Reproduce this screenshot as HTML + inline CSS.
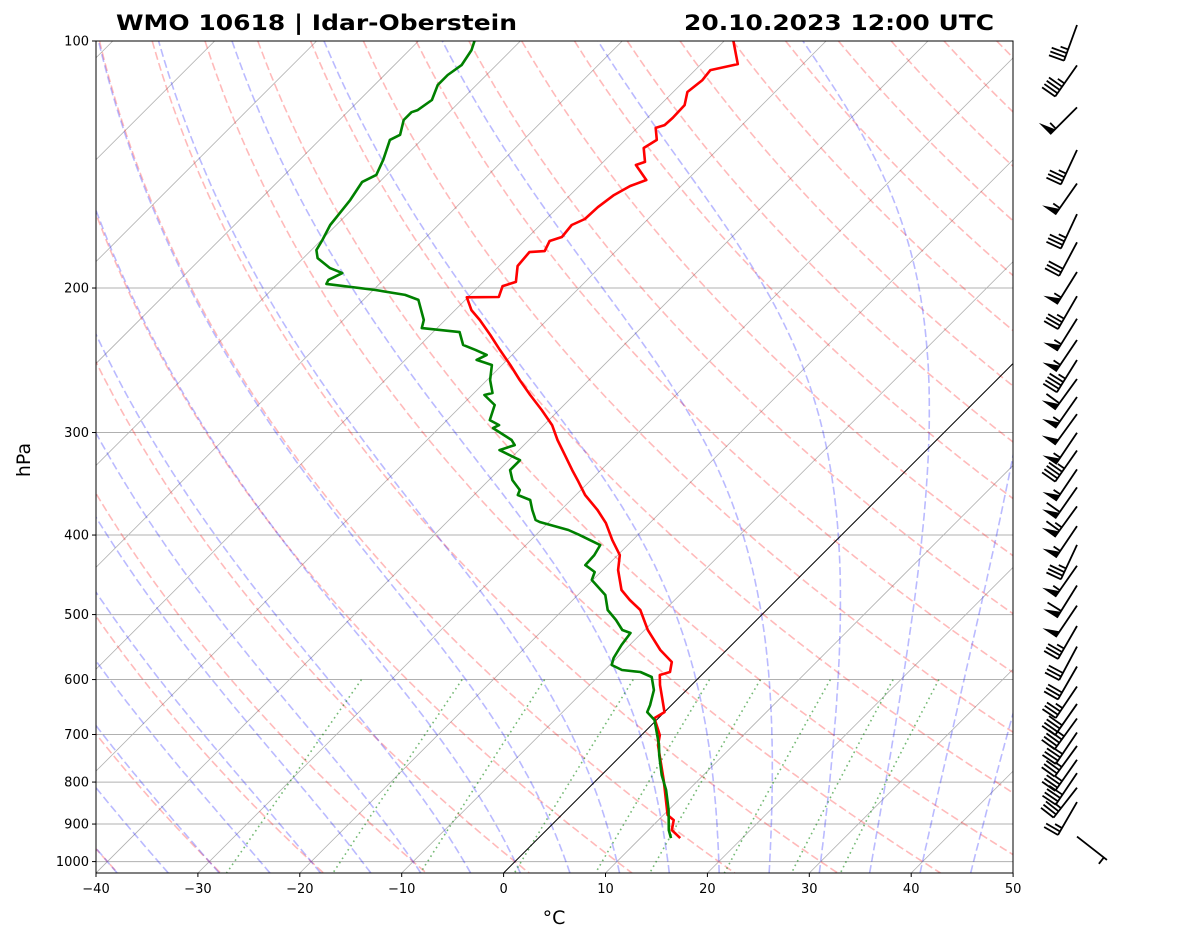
<!DOCTYPE html>
<html><head><meta charset="utf-8"><style>
html,body{margin:0;padding:0;background:#fff;}
svg{display:block;font-family:"DejaVu Sans","Liberation Sans",sans-serif;}
</style></head><body>
<svg id="chart" width="1181" height="941" viewBox="0 0 1181 941" xmlns="http://www.w3.org/2000/svg">
<defs><clipPath id="plotclip"><rect x="96" y="41" width="917" height="832"/></clipPath></defs>
<rect x="0" y="0" width="1181" height="941" fill="#fff"/>
<text x="116" y="30" font-size="21" font-weight="bold" textLength="401" lengthAdjust="spacingAndGlyphs">WMO 10618 | Idar-Oberstein</text>
<text x="684" y="30" font-size="21" font-weight="bold" textLength="310" lengthAdjust="spacingAndGlyphs">20.10.2023 12:00 UTC</text>
<g id="bg" clip-path="url(#plotclip)"></g>
<g id="profiles" clip-path="url(#plotclip)"></g>
<rect x="96" y="41" width="917" height="832" fill="none" stroke="#000" stroke-width="1"/>
<g id="axes"></g>
<g id="barbs"></g>
<text x="0" y="0" font-size="19" text-anchor="middle" transform="translate(30,460) rotate(-90)">hPa</text>
<text x="554" y="924" font-size="19" text-anchor="middle">°C</text>
</svg>
<script>
// ---- data ----
const tempP = [100,106.7,108.5,111.6,115.4,119.7,124.1,126.6,127.6,132.0,135.0,140.4,141.6,147.7,150.2,154.1,159.4,164.8,167.6,173.3,175.3,180.3,180.8,188.0,196.6,198.9,205.1,205.3,212.8,218.8,228.2,237.9,248.2,258.9,270.0,281.6,293.8,306.4,319.6,333.4,342.8,357.5,372.9,386.8,405.7,423.1,441.2,466.7,480.0,493.6,522.1,552.3,571.2,587.4,592.4,609.3,657.4,668.5,701.2,721.1,795.6,877.4,890.0,915.4,936.1];
const tempT = [-59.1,-56.4,-58.5,-58.3,-58.6,-57.6,-57.5,-57.6,-58.2,-56.9,-57.4,-55.9,-56.5,-54.0,-55.0,-55.7,-56.1,-56.2,-56.9,-56.7,-57.5,-57.0,-58.4,-58.2,-56.8,-57.7,-57.0,-60.1,-58.4,-56.6,-54.1,-51.7,-49.2,-46.8,-44.3,-41.7,-39.2,-37.2,-35.0,-32.8,-31.3,-29.1,-26.4,-24.3,-22.0,-19.8,-18.5,-16.2,-14.4,-12.4,-9.7,-6.5,-4.2,-3.4,-4.1,-3.1,0.0,-0.4,1.8,2.6,6.6,10.4,11.5,12.3,13.9];
const dewP = [100,102.6,107.0,110.0,113.1,118.0,121.4,122.1,124.8,130.1,132.0,139.6,145.6,148.5,156.2,162.9,167.6,174.8,179.8,183.9,189.1,191.8,195.5,197.7,201.1,203.9,206.8,218.8,223.8,226.3,234.6,237.9,241.3,244.7,248.2,258.9,268.5,270.0,277.7,289.7,293.8,296.3,306.4,310.8,315.2,324.2,333.4,342.8,352.5,357.5,362.5,372.9,383.5,385.6,394.4,400.0,405.7,411.4,423.1,435.2,443.7,453.8,473.3,493.6,507.7,522.1,526.5,544.6,564.8,576.0,584.1,587.4,595.8,618.0,644.6,657.4,672.2,721.1,741.6,784.3,818.0,865.0,915.4,936.1];
const dewT = [-84.5,-83.9,-83.4,-83.8,-83.8,-82.9,-83.3,-83.7,-83.7,-82.6,-83.1,-81.8,-81.0,-81.7,-81.1,-80.8,-80.6,-79.9,-79.5,-78.6,-76.4,-74.7,-75.4,-75.2,-69.8,-66.4,-64.6,-62.1,-61.5,-57.4,-55.8,-54.1,-52.5,-53.0,-51.0,-49.7,-48.2,-48.8,-46.8,-45.8,-44.4,-44.7,-41.7,-40.9,-41.9,-38.9,-38.9,-37.7,-36.0,-35.7,-34.0,-32.8,-31.5,-30.9,-27.3,-25.7,-24.2,-22.7,-22.3,-22.2,-20.6,-20.1,-17.3,-15.6,-13.8,-12.2,-11.1,-10.8,-10.3,-9.8,-8.3,-6.3,-4.7,-3.2,-2.1,-1.7,-0.2,2.7,3.7,5.9,7.8,10.0,12.0,13.0];
const barbP = [100,112,126,142,156,170,184,200,214,228,242,256,270,284,298,314,330,348,366,386,408,430,456,482,510,540,572,605,640,672,700,728,756,786,816,850,885,975];
const barbSpd = [35,45,55,35,55,35,30,55,35,55,55,45,60,55,50,55,45,55,60,65,55,35,55,60,50,35,30,30,35,40,45,40,35,35,40,35,25,5];
const barbDir = [200,215,225,205,215,205,208,212,210,212,214,212,216,215,216,214,215,214,215,216,214,205,215,212,214,210,208,210,214,215,216,214,216,215,214,218,210,128];
const yTicks = [100,200,300,400,500,600,700,800,900,1000];
const xTicks = [-40,-30,-20,-10,0,10,20,30,40,50];
const dryT0 = [-40,-30,-20,-10,0,10,20,30,40,50,60,70,80,90,100,110,120,130,140,150,160,170,180,190,200];
const moistT0 = [-40,-35,-30,-25,-20,-15,-10,-5,0,5,10,15,20,25,30,35,40,45];
const mixW = [0.0004,0.001,0.002,0.004,0.007,0.01,0.016,0.024,0.032];

// ---- axes ----
const NS="http://www.w3.org/2000/svg";
const Y0=41, Y1=873, X0=96, X1=1013, DEC=820.6, PXC=10.19;
function yP(p){return Y0+DEC*Math.log10(p/100);}
function pY(y){return 100*Math.pow(10,(y-Y0)/DEC);}
function xT(t,p){return X0+(t+40)*PXC+(Y1-yP(p));}
const PBOT=pY(Y1);
function mk(tag,attrs,parent){const e=document.createElementNS(NS,tag);for(const k in attrs)e.setAttribute(k,attrs[k]);parent.appendChild(e);return e;}
const bg=document.getElementById('bg'), prof=document.getElementById('profiles'), ax=document.getElementById('axes'), bb=document.getElementById('barbs');
function pathFrom(ps,ts){let d='';for(let i=0;i<ps.length;i++){d+=(i?'L':'M')+xT(ts[i],ps[i]).toFixed(1)+','+yP(ps[i]).toFixed(1);}return d;}
function pLevels(a,b,step){const r=[];for(let p=a;p<=b+1e-6;p+=step)r.push(p);if(r[r.length-1]<b)r.push(b);return r;}

yTicks.forEach(p=>{
  const l=mk('line',{x1:X0,x2:X1,y1:yP(p),y2:yP(p),stroke:'#b0b0b0','stroke-width':1},bg);
  
  
});
for(let t=-130;t<=50;t+=10){
  const l=mk('line',{x1:xT(t,PBOT),y1:Y1,x2:xT(t,100),y2:Y0,stroke:'#b0b0b0','stroke-width':0.8},bg);
  
  
}
const pAll=pLevels(100,PBOT,5);
dryT0.forEach(t0=>{
  const ts=pAll.map(p=>(t0+273.15)*Math.pow(p/1000,0.2857)-273.15);
  const e=mk('path',{d:pathFrom(pAll,ts),fill:'none',stroke:'rgba(255,0,0,0.27)','stroke-width':1.6,'stroke-dasharray':'8,3.5'},bg);
  
  
});
function es(Tk){const t=Tk-273.15;return 6.112*Math.exp(17.67*t/(t+243.5));}
function dTdp(p,T){const e=es(T);const rs=0.622*e/(p-e);return (1/p)*(287.04*T+2.501e6*rs)/(1005.7+(2.501e6*2.501e6*rs*0.622)/(287.04*T*T));}
function integ(T0,pStart,pEnd,h){const ps=[pStart],ts=[T0];let p=pStart,T=T0;const n=Math.ceil(Math.abs(pEnd-pStart)/h);const dh=(pEnd-pStart)/n;for(let i=0;i<n;i++){const k1=dTdp(p,T);const k2=dTdp(p+dh/2,T+k1*dh/2);const k3=dTdp(p+dh/2,T+k2*dh/2);const k4=dTdp(p+dh,T+k3*dh);T+=dh*(k1+2*k2+2*k3+k4)/6;p+=dh;ps.push(p);ts.push(T-273.15);}ts[0]=T0-273.15;return [ps,ts];}
moistT0.forEach(t0=>{
  const up=integ(t0+273.15,1000,100,5);const dn=integ(t0+273.15,1000,PBOT,5);
  const ps=dn[0].slice().reverse().concat(up[0].slice(1));const ts=dn[1].slice().reverse().concat(up[1].slice(1));
  const e=mk('path',{d:pathFrom(ps,ts),fill:'none',stroke:'rgba(0,0,255,0.27)','stroke-width':1.6,'stroke-dasharray':'8,3.5'},bg);
  
  
});
const pMix=pLevels(600,PBOT,10);
mixW.forEach(w=>{
  const ts=pMix.map(p=>{const e=p*w/(0.622+w);const l=Math.log(e/6.112);return 243.5*l/(17.67-l);});
  const e=mk('path',{d:pathFrom(pMix,ts),fill:'none',stroke:'rgba(0,128,0,0.55)','stroke-width':1.6,'stroke-dasharray':'1.6,3.5'},bg);
  
  
});
const zi=mk('line',{x1:xT(0,PBOT),y1:Y1,x2:xT(0,100),y2:Y0,stroke:'#000','stroke-width':1},bg);



const tl=mk('path',{d:pathFrom(tempP,tempT),fill:'none',stroke:'#ff0000','stroke-width':2.6,'stroke-linejoin':'round'},prof);


const dl=mk('path',{d:pathFrom(dewP,dewT),fill:'none',stroke:'#008000','stroke-width':2.6,'stroke-linejoin':'round'},prof);



yTicks.forEach(p=>{
  const y=yP(p);
  mk('line',{x1:X0-4,x2:X0,y1:y,y2:y,stroke:'#000','stroke-width':1},ax);
  const t=mk('text',{x:X0-7,y:y+4.5,'font-size':13,'text-anchor':'end'},ax);
  t.textContent=p;
  
  
});
xTicks.forEach(v=>{
  const x=X0+(v+40)*PXC;
  mk('line',{x1:x,x2:x,y1:Y1,y2:Y1+4,stroke:'#000','stroke-width':1},ax);
  const t=mk('text',{x:x,y:Y1+20,'font-size':13,'text-anchor':'middle'},ax);
  t.textContent=(v<0?'\u2212'+(-v):v);
  
  
});

barbP.forEach((p,i)=>{
  const g=mk('g',{},bb);
  
  
  const d=barbDir[i]*Math.PI/180;
  const ux=Math.sin(d), uy=-Math.cos(d);
  const vx=-uy, vy=ux;
  const L=38, F=16;
  const bx=1077, by=yP(p)-16;
  const tx=bx+ux*L, ty=by+uy*L;
  mk('line',{x1:bx,y1:by,x2:tx,y2:ty,stroke:'#000','stroke-width':1.8},g);
  let s=barbSpd[i], pos=0;
  const nf=Math.floor(s/50); s-=nf*50;
  const nb=Math.floor(s/10); s-=nb*10;
  const nh=s>=5?1:0;
  for(let k=0;k<nf;k++){
    const ax1=tx-ux*pos, ay1=ty-uy*pos, ax2=tx-ux*(pos+7), ay2=ty-uy*(pos+7);
    mk('polygon',{points:`${ax1},${ay1} ${ax1+vx*F},${ay1+vy*F} ${ax2},${ay2}`,fill:'#000'},g);
    pos+=8;
  }
  for(let k=0;k<nb;k++){
    const x=tx-ux*pos, y=ty-uy*pos;
    mk('line',{x1:x,y1:y,x2:x+vx*F,y2:y+vy*F,stroke:'#000','stroke-width':1.8},g);
    pos+=4;
  }
  if(nh){ if(pos===0)pos=4; const x=tx-ux*pos, y=ty-uy*pos;
    mk('line',{x1:x,y1:y,x2:x+vx*F/2,y2:y+vy*F/2,stroke:'#000','stroke-width':1.8},g);}
});
</script>
</body></html>
